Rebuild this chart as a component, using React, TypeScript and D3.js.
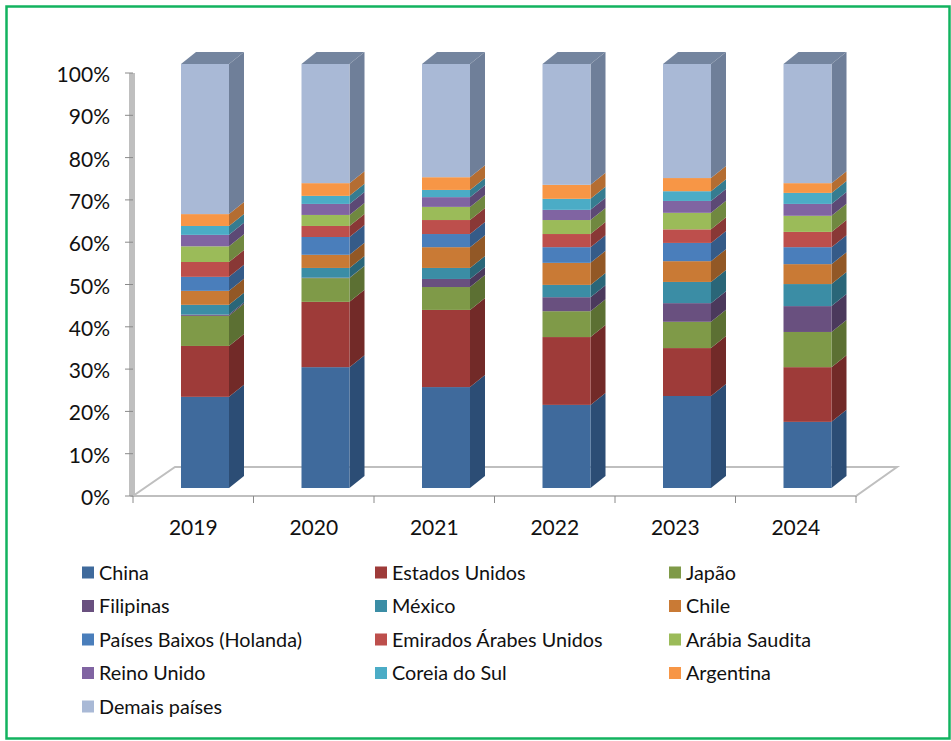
import React from "react";
import * as d3 from "d3";

const years = ["2019", "2020", "2021", "2022", "2023", "2024"];
const countries = [
  "China", "Estados Unidos", "Japão", "Filipinas", "México", "Chile",
  "Países Baixos (Holanda)", "Emirados Árabes Unidos", "Arábia Saudita",
  "Reino Unido", "Coreia do Sul", "Argentina", "Demais países",
];

// Percent share per year, in the order of `years`.
const china = [21.5, 28.5, 23.8, 19.6, 21.7, 15.6];
const estadosUnidos = [12, 15.4, 18.2, 16, 11.3, 12.9];
const japao = [7.1, 5.6, 5.4, 6.1, 6.2, 8.3];
const filipinas = [0.3, 0.1, 1.9, 3.3, 4.4, 6.1];
const mexico = [2.3, 2.3, 2.6, 2.9, 5, 5.2];
const chile = [3.3, 3.1, 4.9, 5.2, 4.9, 4.7];
const paisesBaixos = [3.3, 4.2, 3.1, 3.7, 4.3, 4];
const emirados = [3.5, 2.6, 3.3, 3.1, 3.2, 3.6];
const arabiaSaudita = [3.7, 2.6, 3.1, 3.3, 3.9, 3.8];
const reinoUnido = [2.7, 2.6, 2.3, 2.4, 2.8, 2.8];
const coreiaDoSul = [2.1, 1.9, 1.7, 2.6, 2.3, 2.6];
const argentina = [2.8, 3, 3, 3.3, 3.1, 2.3];
const demais = [35.4, 28.1, 26.7, 28.5, 26.9, 28.1];

const seriesValues = [
  china, estadosUnidos, japao, filipinas, mexico, chile, paisesBaixos,
  emirados, arabiaSaudita, reinoUnido, coreiaDoSul, argentina, demais,
];

const frontColors = [
  "#3f6a9c", "#9e3b39", "#7f9a48", "#69507f", "#3b8da5", "#c97a35", "#4a7ebb",
  "#bd4f4c", "#9bbb59", "#8064a2", "#4bacc6", "#f79646", "#a9b9d6",
];
const sideColors = [
  "#2c4d75", "#722a28", "#5c7033", "#4b395c", "#2a6678", "#925826", "#355b88",
  "#893836", "#708840", "#5c4975", "#367c90", "#b46d32", "#6f7f99",
];

const yTicks = d3.range(0, 101, 10);
const fontFamily = "Lato, 'Open Sans', sans-serif";

// Oblique depth of the 3D projection.
const depthX = 15;
const depthY = 12;
const barWidth = 48;

export default function App() {
  const x = d3.scaleBand<string>().domain(years).range([133, 856]);
  const yFront = d3.scaleLinear().domain([0, 100]).range([488, 64]);
  const yAxis = d3.scaleLinear().domain([0, 100]).range([496, 73]);

  const rows = years.map((year, i) => {
    const row: Record<string, number | string> = { year };
    countries.forEach((c, k) => { row[c] = seriesValues[k][i]; });
    return row;
  });
  const stacked = d3.stack<any>().keys(countries)(rows);

  const poly = (pts: [number, number][]) => pts.map((p) => p.join(",")).join(" ");
  const step = x.step();
  const axisGray = "#bfbfbf";

  return (
    <svg
      width={951}
      height={741}
      style={{ position: "absolute", left: 0, top: 0, background: "#fff" }}
      fontFamily={fontFamily}
    >
      <rect x={6.5} y={6.5} width={943} height={732} fill="#fff" stroke="#12b35f" strokeWidth={2.5} />

      {/* Floor and left wall */}
      <polygon
        points={poly([[133, 496], [856, 496], [897, 467], [175, 467]])}
        fill="#fff"
        stroke={axisGray}
        strokeWidth={2}
      />
      <rect x={129} y={yAxis(100)} width={6} height={yAxis(0) - yAxis(100)} fill={axisGray} />

      {yTicks.map((t) => (
        <g key={t}>
          <line x1={125} x2={133} y1={yAxis(t)} y2={yAxis(t)} stroke="#8a8a8a" strokeWidth={1} />
          <text x={110} y={yAxis(t) + 1.5} dy="0.36em" textAnchor="end" fontSize={21} fill="#111">
            {t}%
          </text>
        </g>
      ))}

      {d3.range(years.length + 1).map((i) => (
        <line
          key={i}
          x1={133 + i * step}
          x2={133 + i * step}
          y1={496}
          y2={503}
          stroke="#8a8a8a"
          strokeWidth={1}
        />
      ))}

      {/* Stacked 3D columns */}
      {years.map((year, i) => {
        const x0 = (x(year) as number) + 48;
        const x1 = x0 + barWidth;
        const top = yFront(100);
        return (
          <g key={year}>
            {stacked.map((layer, k) => {
              const yb = yFront(layer[i][0]);
              const yt = yFront(layer[i][1]);
              return (
                <g key={layer.key}>
                  <polygon
                    points={poly([[x1, yb], [x1 + depthX, yb - depthY], [x1 + depthX, yt - depthY], [x1, yt]])}
                    fill={sideColors[k]}
                  />
                  <rect x={x0} y={yt} width={barWidth} height={yb - yt} fill={frontColors[k]} />
                </g>
              );
            })}
            <polygon
              points={poly([[x0, top], [x1, top], [x1 + depthX, top - depthY], [x0 + depthX, top - depthY]])}
              fill="#74859f"
            />
            <text
              x={(x(year) as number) + step / 2}
              y={535}
              textAnchor="middle"
              fontSize={21}
              fill="#111"
            >
              {year}
            </text>
          </g>
        );
      })}

      {/* Legend: three columns, filled row by row */}
      {countries.map((c, k) => {
        const col = k % 3;
        const row = Math.floor(k / 3);
        const lx = [82, 375, 669][col];
        const ly = 572.5 + row * 33.5;
        return (
          <g key={c}>
            <rect x={lx} y={ly - 6} width={12} height={12} fill={frontColors[k]} />
            <text x={lx + 17} y={ly} dy="0.36em" fontSize={19.8} fill="#111">
              {c}
            </text>
          </g>
        );
      })}
    </svg>
  );
}
